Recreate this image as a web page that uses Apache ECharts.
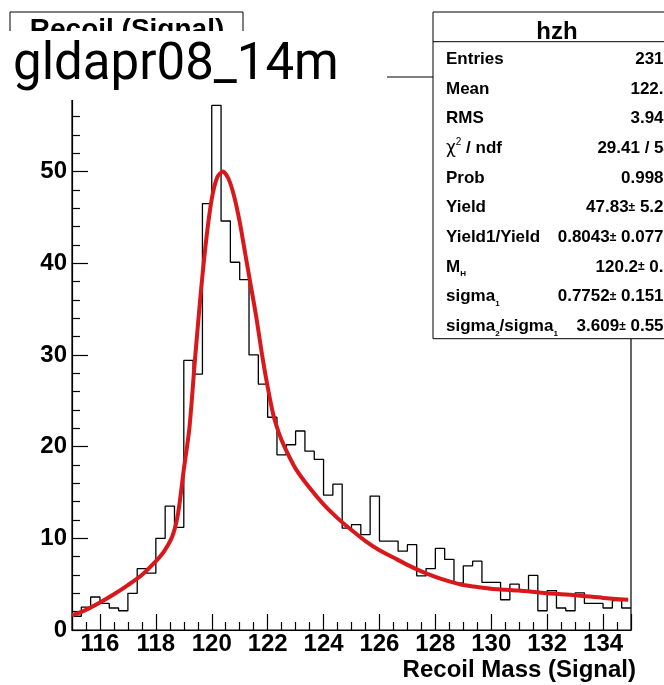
<!DOCTYPE html>
<html><head><meta charset="utf-8">
<script src="https://cdn.jsdelivr.net/npm/echarts@6/dist/echarts.min.js"></script>
<style>html,body{margin:0;padding:0;background:#fff}#c{width:664px;height:685px}</style>
</head><body><div id="c"></div>
<script>
// ---- data ----
const xRange = [115, 135];
const yRange = [0, 60.3];
const binWidth = 1 / 3;
const counts = [
  1.5, 2.5, 3.6, 2.9, 2.4, 2.1, 4.0, 6.7, 6.2, 10.0,
  13.5, 11.2, 29.4, 27.9, 46.5, 57.2, 44.6, 40.1, 38.2, 30.0,
  26.8, 23.2, 19.1, 20.2, 21.7, 19.5, 18.6, 14.7, 15.9, 11.1,
  11.5, 10.4, 14.6, 9.7, 9.7, 8.6, 9.3, 5.9, 6.7, 8.9,
  7.7, 5.1, 7.0, 7.5, 5.2, 5.2, 3.3, 5.0, 4.2, 5.95,
  2.1, 4.3, 2.4, 2.1, 4.05, 2.9, 2.9, 2.4, 3.2, 2.4
];
const fitX = [115.0,115.5,116.0,116.5,117.0,117.5,118.0,118.3,118.6,118.8,119.0,119.2,119.4,119.6,119.8,120.0,120.2,120.4,120.6,120.8,121.0,121.2,121.4,121.6,121.8,122.0,122.2,122.4,122.6,123.0,123.5,124.0,124.5,125.0,125.5,126.0,126.5,127.0,127.5,128.0,128.5,129.0,129.5,130.0,130.5,131.0,132.0,133.0,134.0,134.9];
const fitY = [1.6,2.2,3.0,3.9,4.9,6.0,7.5,8.6,10.3,12.8,17.5,22.0,29.5,36.5,42.5,47.0,49.4,50.0,49.2,47.3,44.5,41.0,37.5,34.0,30.0,26.5,23.5,21.5,20.0,17.6,15.5,13.7,12.2,10.9,9.7,8.7,7.9,7.1,6.4,5.8,5.3,4.9,4.7,4.5,4.4,4.3,4.0,3.8,3.5,3.3];
const chartTitle = 'Recoil (Signal)';
const xAxisTitle = 'Recoil Mass (Signal)';
const overlayLabel = 'gldapr08_14m';
const statsTitle = 'hzh';
const statsNames = [
  '{b|Entries}', '{b|Mean}', '{b|RMS}', '{chi|χ}{sup|2}{b| / ndf}', '{b|Prob}', '{b|Yield}',
  '{b|Yield1/Yield}', '{b|M}{sub|H}', '{b|sigma}{sub|1}', '{b|sigma}{sub|2}{b|/sigma}{sub|1}'
];
const statsValues = [
  '{b|2313}', '{b|122.5}', '{b|3.947}', '{b|29.41 / 54}', '{b|0.9983}', '{b|47.83}{pm|±}{b| 5.26}',
  '{b|0.8043}{pm|±}{b| 0.0776}', '{b|120.2}{pm|±}{b| 0.1}', '{b|0.7752}{pm|±}{b| 0.1512}', '{b|3.609}{pm|±}{b| 0.553}'
];

// ---- chart ----
const FONT = "'Liberation Sans', Arial, Helvetica, sans-serif";
const histData = counts.map((c, i) => [xRange[0] + i * binWidth, c]);
histData.push([xRange[1], counts[counts.length - 1]]);
const fitData = fitX.map((x, i) => [x, fitY[i]]);

const richStyles = {
  b: { fontFamily: FONT, fontWeight: 'bold', fontSize: 17, lineHeight: 22, verticalAlign: 'middle', color: '#000' },
  sub: { fontFamily: FONT, fontWeight: 'bold', fontSize: 8, lineHeight: 8, verticalAlign: 'bottom', color: '#000' },
  sup: { fontFamily: FONT, fontSize: 10, lineHeight: 10, verticalAlign: 'top', color: '#000' },
  chi: { fontFamily: "'DejaVu Sans', sans-serif", fontSize: 17, lineHeight: 22, verticalAlign: 'middle', color: '#000' },
  pm: { fontFamily: FONT, fontWeight: 'bold', fontSize: 12, lineHeight: 22, verticalAlign: 'middle', color: '#000' }
};

const boxL = 433, boxT = 12, boxW = 250, rowH = 29.7;
const graphics = [];
// title box
graphics.push({ type: 'rect', z: 100, shape: { x: 10, y: 12, width: 233, height: 40 }, style: { fill: '#fff', stroke: '#000', lineWidth: 1 } });
graphics.push({ type: 'text', z: 101, style: { text: chartTitle, x: 127, y: 30, align: 'center', verticalAlign: 'middle', font: "bold 28px " + FONT, fill: '#000' } });
// overlay label with white background
graphics.push({ type: 'rect', z: 102, shape: { x: 0, y: 31, width: 387, height: 69 }, style: { fill: '#fff' } });
graphics.push({ type: 'text', z: 103, style: { text: overlayLabel, x: 13, y: 66, align: 'left', verticalAlign: 'middle', font: "51px Roboto, 'Noto Sans', sans-serif", fill: '#000' } });
// stats box
graphics.push({ type: 'rect', z: 100, shape: { x: boxL, y: boxT, width: boxW, height: rowH * 11 }, style: { fill: '#fff', stroke: '#000', lineWidth: 1 } });
graphics.push({ type: 'line', z: 101, shape: { x1: boxL, y1: boxT + rowH, x2: boxL + boxW, y2: boxT + rowH }, style: { stroke: '#000', lineWidth: 1 } });
graphics.push({ type: 'text', z: 101, style: { text: statsTitle, x: 557, y: 32, align: 'center', verticalAlign: 'middle', font: "bold 24px " + FONT, fill: '#000' } });
statsNames.forEach((n, i) => {
  const y = 59.2 + i * rowH;
  graphics.push({ type: 'text', z: 101, style: { text: n, rich: richStyles, x: 446, y: y, align: 'left', verticalAlign: 'middle' } });
  graphics.push({ type: 'text', z: 101, style: { text: statsValues[i], rich: richStyles, x: 673, y: y, align: 'right', verticalAlign: 'middle' } });
});
// x axis title
graphics.push({ type: 'text', z: 101, style: { text: xAxisTitle, x: 636, y: 670, align: 'right', verticalAlign: 'middle', font: "bold 24px " + FONT, fill: '#000' } });

const chart = echarts.init(document.getElementById('c'), null, { renderer: 'canvas' });
chart.setOption({
  animation: false,
  backgroundColor: '#fff',
  grid: { left: 72, right: 33, top: 77, bottom: 55, show: true, borderColor: '#000', borderWidth: 1.2, backgroundColor: 'transparent' },
  xAxis: {
    type: 'value', min: xRange[0], max: xRange[1], splitNumber: 10,
    axisLine: { show: true, onZero: false, lineStyle: { color: '#000', width: 1.2 } },
    axisTick: { show: true, inside: true, length: 16, lineStyle: { color: '#000', width: 1.2 } },
    minorTick: { show: true, splitNumber: 4, length: 8, lineStyle: { color: '#000', width: 1.2 } },
    splitLine: { show: false },
    axisLabel: { show: true, showMinLabel: false, showMaxLabel: false, margin: 2, color: '#000', fontFamily: FONT, fontWeight: 'bold', fontSize: 24 }
  },
  yAxis: {
    type: 'value', min: yRange[0], max: yRange[1], interval: 10,
    axisLine: { show: true, onZero: false, lineStyle: { color: '#000', width: 1.2 } },
    axisTick: { show: true, inside: true, length: 16, lineStyle: { color: '#000', width: 1.2 } },
    minorTick: { show: true, splitNumber: 5, length: 8, lineStyle: { color: '#000', width: 1.2 } },
    splitLine: { show: false },
    axisLabel: { show: true, showMaxLabel: false, margin: 5, color: '#000', fontFamily: FONT, fontWeight: 'bold', fontSize: 24 }
  },
  series: [
    { type: 'line', name: 'hist', data: histData, step: 'end', symbol: 'none', z: 2,
      lineStyle: { color: '#000', width: 1.3 }, silent: true },
    { type: 'line', name: 'fit', data: fitData, smooth: 0.25, symbol: 'none', z: 3,
      lineStyle: { color: '#d9181c', width: 4 }, silent: true }
  ],
  graphic: graphics
});
</script>
</body></html>
